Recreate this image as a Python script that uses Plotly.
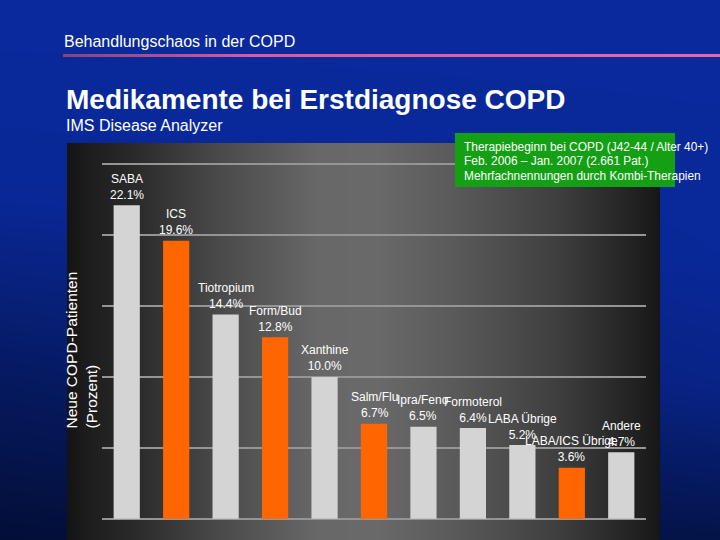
import base64
import struct
import zlib

import numpy as np
import plotly.graph_objects as go

# ---------------- data ----------------
categories = ["SABA", "ICS", "Tiotropium", "Form/Bud", "Xanthine", "Salm/Flu",
              "Ipra/Feno", "Formoterol", "LABA Übrige", "LABA/ICS Übrige", "Andere"]
values = [22.1, 19.6, 14.4, 12.8, 10.0, 6.7, 6.5, 6.4, 5.2, 3.6, 4.7]
is_ics_combo = [False, True, False, True, False, True, False, False, False, True, False]
y_ticks = [0, 5, 10, 15, 20, 25]

header_text = "Behandlungschaos in der COPD"
title_text = "Medikamente bei Erstdiagnose COPD"
subtitle_text = "IMS Disease Analyzer"
note_lines = ["Therapiebeginn bei COPD (J42-44 / Alter 40+)",
              "Feb. 2006 – Jan. 2007 (2.661 Pat.)",
              "Mehrfachnennungen durch Kombi-Therapien"]
y_title_lines = ["Neue COPD-Patienten", "(Prozent)"]

# ---------------- geometry ----------------
W, H = 720, 540
Y_PAD = 0.15                     # small range padding so edge gridlines show
L, R, T, B = 102, 646, 162, 521  # plot area in pixels
PW, PH = R - L, B - T


def px(x):
    return (x - L) / PW


def py(y):
    return (B - y) / PH


FONT = "Arial, Liberation Sans, sans-serif"
GRAY = "#d4d4d4"
ORANGE = "#ff6600"

# ---------------- background image (slide gradients) ----------------
yy, xx = np.mgrid[0:H, 0:W].astype(float)
top_blue = np.array([10, 42, 158], float)

left_b = np.interp(yy, [0, 200, 380, 540], [1.0, 0.95, 0.6, 0.35])
right_b = np.interp(yy, [0, 250, 380, 540], [1.0, 0.97, 0.86, 0.46])
s = xx / (W - 1)
bright = left_b * (1 - s) + right_b * s
img = bright[..., None] * top_blue[None, None, :]

# dark grey panel with horizontal gradient
gx = [67, 84, 139, 218, 317, 376, 455, 554, 613, 653, 660]
gv = [20, 28, 44, 74, 104, 106, 90, 64, 42, 26, 22]
panel = (xx >= 67) & (xx < 660) & (yy >= 143)
g = np.interp(xx, gx, gv)
img[panel] = np.stack([g, g, g], -1)[panel]

# pink header rule
rule = (xx >= 63) & (yy >= 54) & (yy < 57)
pr = np.interp(xx, [63, 250, 720], [130, 215, 232])
pg = np.interp(xx, [63, 250, 720], [70, 92, 104])
pb = np.interp(xx, [63, 250, 720], [128, 160, 170])
img[rule] = np.stack([pr, pg, pb], -1)[rule]

img = np.clip(img, 0, 255).astype(np.uint8)


def png_data_uri(arr):
    h, w, _ = arr.shape
    raw = b"".join(b"\x00" + arr[i].tobytes() for i in range(h))

    def chunk(tag, data):
        c = struct.pack(">I", len(data)) + tag + data
        return c + struct.pack(">I", zlib.crc32(tag + data) & 0xFFFFFFFF)

    png = (b"\x89PNG\r\n\x1a\n"
           + chunk(b"IHDR", struct.pack(">IIBBBBB", w, h, 8, 2, 0, 0, 0))
           + chunk(b"IDAT", zlib.compress(raw, 9))
           + chunk(b"IEND", b""))
    return "data:image/png;base64," + base64.b64encode(png).decode()


# ---------------- figure ----------------
colors = [ORANGE if c else GRAY for c in is_ics_combo]

fig = go.Figure(go.Bar(
    x=categories, y=values,
    marker=dict(color=colors, line=dict(width=0)),
    hoverinfo="skip",
))

annotations = []
for cat, val in zip(categories, values):
    annotations.append(dict(
        x=cat, y=val, xref="x", yref="y",
        text=f"{cat}<br>{val:.1f}%",
        showarrow=False, yanchor="bottom", xanchor="center",
        yshift=1.5,
        font=dict(family=FONT, size=12, color="white"),
    ))

# header texts
annotations += [
    dict(x=px(62), y=py(41), xref="paper", yref="paper", text=header_text,
         showarrow=False, xanchor="left", yanchor="middle",
         font=dict(family=FONT, size=16, color="white")),
    dict(x=px(64), y=py(99), xref="paper", yref="paper", text=f"<b>{title_text}</b>",
         showarrow=False, xanchor="left", yanchor="middle",
         font=dict(family=FONT, size=28, color="white")),
    dict(x=px(64), y=py(126), xref="paper", yref="paper", text=subtitle_text,
         showarrow=False, xanchor="left", yanchor="middle",
         font=dict(family=FONT, size=16, color="white")),
    dict(x=px(71), y=py(431), xref="paper", yref="paper", text=y_title_lines[0],
         showarrow=False, xanchor="center", yanchor="bottom", textangle=-90,
         font=dict(family=FONT, size=15.5, color="white")),
    dict(x=px(90.5), y=py(431), xref="paper", yref="paper", text=y_title_lines[1],
         showarrow=False, xanchor="center", yanchor="bottom", textangle=-90,
         font=dict(family=FONT, size=15.5, color="white")),
]
for i, line in enumerate(note_lines):
    annotations.append(dict(
        x=px(462), y=py(146.5 + 14.5 * i), xref="paper", yref="paper", text=line,
        showarrow=False, xanchor="left", yanchor="middle", align="left",
        font=dict(family=FONT, size=11.9, color="white")))

shapes = [
    dict(type="rect", xref="paper", yref="paper",
         x0=px(455), x1=px(675), y0=py(187), y1=py(133),
         fillcolor="#14a014", line=dict(width=0), layer="above"),
]

fig.update_layout(
    width=W, height=H,
    margin=dict(l=L, r=W - R, t=T, b=H - B, pad=0),
    paper_bgcolor="#0a2a9e",
    plot_bgcolor="rgba(0,0,0,0)",
    showlegend=False,
    bargap=0.47,
    xaxis=dict(range=[-0.5, len(categories) - 0.5], showticklabels=False,
               showgrid=False, zeroline=False, showline=False, ticks="",
               fixedrange=True),
    yaxis=dict(range=[y_ticks[0] - Y_PAD, y_ticks[-1] + Y_PAD], tickvals=y_ticks,
               showticklabels=False, showgrid=True, gridcolor="#959595",
               gridwidth=2, zeroline=False, showline=False, ticks="",
               fixedrange=True),
    annotations=annotations,
    shapes=shapes,
    images=[dict(source=png_data_uri(img), xref="paper", yref="paper",
                 x=px(0), y=py(0), sizex=W / PW, sizey=H / PH,
                 xanchor="left", yanchor="top", sizing="stretch",
                 layer="below")],
)

fig.write_html(
    "out.html",
    config=dict(displayModeBar=False),
    post_script="document.body.style.margin='0px';document.body.style.padding='0px';",
)
